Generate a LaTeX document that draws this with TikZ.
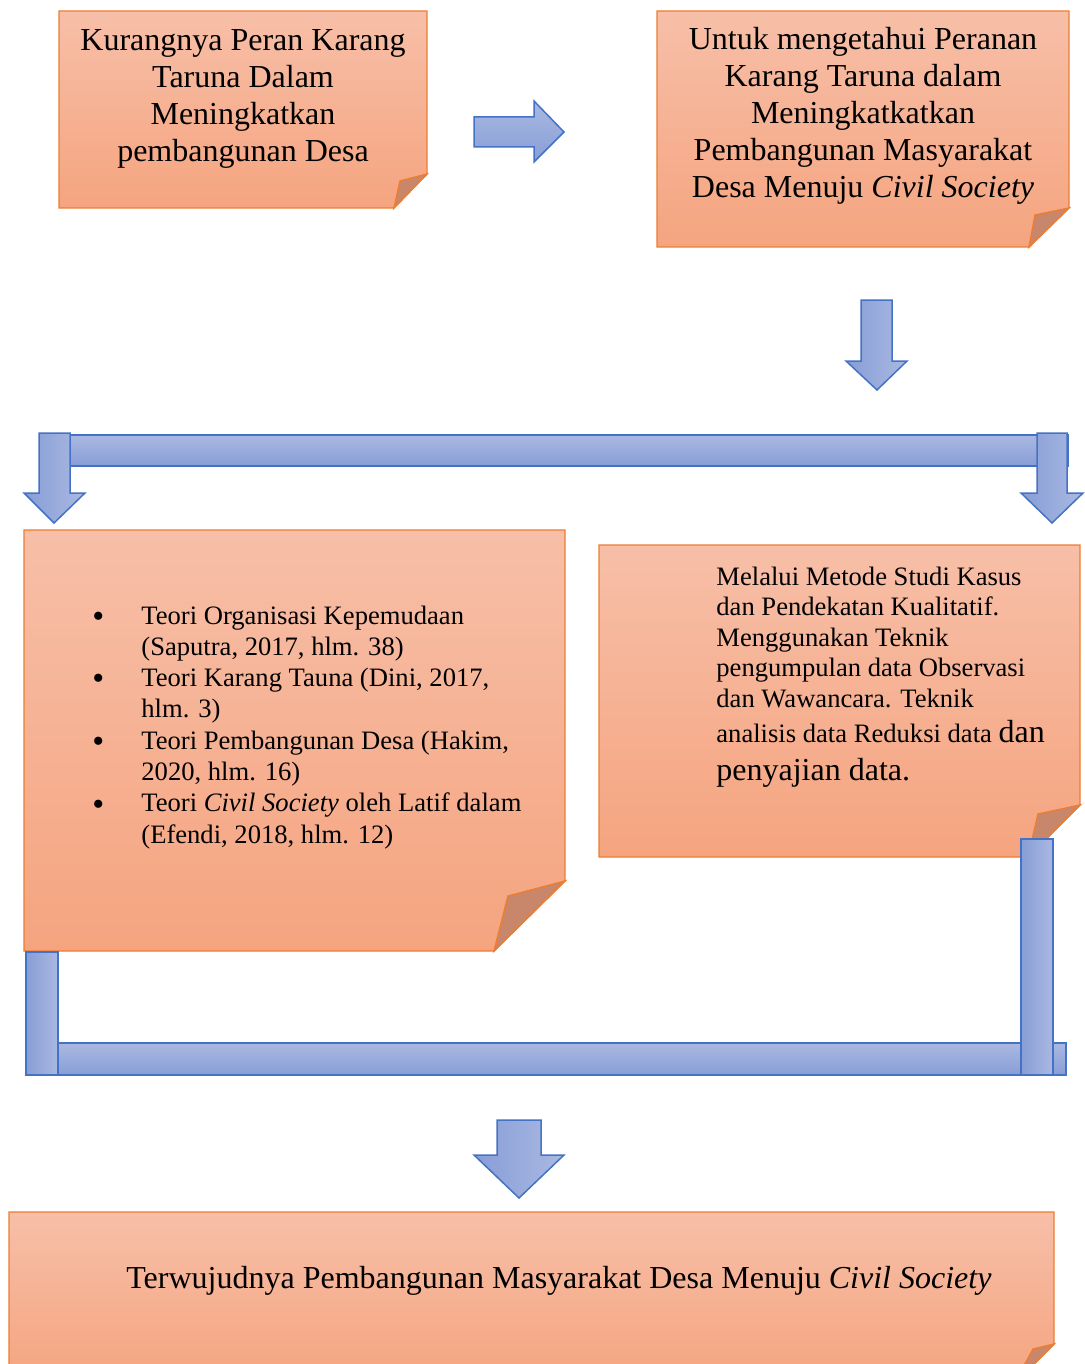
\documentclass[tikz,border=0pt]{standalone}
\usepackage{fontspec}
\setmainfont{Liberation Serif}
\definecolor{orTop}{HTML}{F7BFA8}
\definecolor{orBot}{HTML}{F5A47F}
\definecolor{orLine}{HTML}{ED7D31}
\definecolor{orFold}{HTML}{C8866A}
\definecolor{blTop}{HTML}{AAB9E2}
\definecolor{blBot}{HTML}{879DD6}
\definecolor{blLine}{HTML}{4472C4}
\newcommand{\bigbul}{\raisebox{-1.6pt}{\fontsize{17}{17}\selectfont\textbullet}}
\tikzset{
  note/.style={top color=orTop, bottom color=orBot, draw=orLine, line width=0.7pt, line join=miter},
  foldc/.style={fill=orFold, draw=orLine, line width=0.7pt, line join=miter},
  harrow/.style={top color=blTop, bottom color=blBot, draw=blLine, line width=0.75pt, line join=miter},
  varrow/.style={left color=blBot, right color=blTop, draw=blLine, line width=0.75pt, line join=miter},
  bigtext/.style={font=\fontsize{16}{18.4}\selectfont, inner sep=0pt},
  smalltext/.style={font=\fontsize{13.3}{15.65}\selectfont, inner sep=0pt},
  smalltextb/.style={font=\fontsize{13.3}{15.25}\selectfont, inner sep=0pt},
}
\begin{document}
\begin{tikzpicture}[x=0.5pt, y=-0.5pt]
\useasboundingbox (0,0) rectangle (1085,1364);
\begin{scope}
\clip (0,0) rectangle (1085,1364);
% box 1
\path[note] (59,11) -- (427,11) -- (427,174) -- (394,208) -- (59,208) -- cycle;
\path[foldc] (427,174) -- (400,181) -- (394,208) -- cycle;
% box 2
\path[note] (657,11) -- (1069,11) -- (1069,208) -- (1029,247) -- (657,247) -- cycle;
\path[foldc] (1069,208) -- (1035,215) -- (1029,247) -- cycle;
% right arrow
\path[harrow] (474,117) -- (534,117) -- (534,101) -- (564,132) -- (534,162) -- (534,147) -- (474,147) -- cycle;
% down arrow
\path[varrow] (861,300) -- (892,300) -- (892,361) -- (907,361) -- (877,390) -- (846,361) -- (861,361) -- cycle;
% top bar
\path[harrow] (70,435) rectangle (1068,466);
% split arrows
\path[varrow] (39,433) -- (70,433) -- (70,493) -- (85,493) -- (54,523) -- (24,493) -- (39,493) -- cycle;
\path[varrow] (1037,433) -- (1067,433) -- (1067,493) -- (1083,493) -- (1052,523) -- (1021,493) -- (1037,493) -- cycle;
% box 3
\path[note] (24,530) -- (565,530) -- (565,881) -- (494,951) -- (24,951) -- cycle;
\path[foldc] (565,881) -- (508,896) -- (494,951) -- cycle;
% box 4
\path[note] (599,545) -- (1080,545) -- (1080,805) -- (1028,857) -- (599,857) -- cycle;
\path[foldc] (1080,805) -- (1038,814) -- (1028,857) -- cycle;
% bottom bars
\path[harrow] (26,1043) rectangle (1066,1075);
\path[varrow] (26,952) rectangle (58,1075);
\path[varrow] (1021,839) rectangle (1053,1075);
% bottom arrow
\path[varrow] (497,1120) -- (541,1120) -- (541,1155) -- (564,1155) -- (519,1198) -- (474,1155) -- (497,1155) -- cycle;
% box 5
\path[note] (9,1212) -- (1054,1212) -- (1054,1344) -- (1014,1384) -- (9,1384) -- cycle;
\path[foldc] (1054,1344) -- (1033,1349) -- (1014,1384) -- cycle;
\end{scope}
% texts
\node[bigtext, anchor=base] (t1) at (243,51) {\begin{tabular}[t]{@{}c@{}}Kurangnya Peran Karang\\ Taruna Dalam\\ Meningkatkan\\ pembangunan Desa\end{tabular}};
\node[bigtext, anchor=base] (t2) at (863,50) {\begin{tabular}[t]{@{}c@{}}Untuk mengetahui Peranan\\ Karang Taruna dalam\\ Meningkatkatkan\\ Pembangunan Masyarakat\\ Desa Menuju \textit{Civil Society}\end{tabular}};
\node[smalltext, anchor=base west] (t3) at (92,624) {\begin{tabular}[t]{@{}l@{}l@{}}
\makebox[24.5pt][l]{\bigbul} & Teori Organisasi Kepemudaan\\
 & (Saputra, 2017, hlm. 38)\\
\bigbul & Teori Karang Tauna (Dini, 2017,\\
 & hlm. 3)\\
\bigbul & Teori Pembangunan Desa (Hakim,\\
 & 2020, hlm. 16)\\
\bigbul & Teori \textit{Civil Society} oleh Latif dalam\\
 & (Efendi, 2018, hlm. 12)
\end{tabular}};
\node[smalltextb, anchor=base west] (t4) at (716,585) {\begin{tabular}[t]{@{}l@{}}
Melalui Metode Studi Kasus\\
dan Pendekatan Kualitatif.\\
Menggunakan Teknik\\
pengumpulan data Observasi\\
dan Wawancara. Teknik\\[2.2pt]
analisis data Reduksi data {\fontsize{16}{18.4}\selectfont dan}\\[3.4pt]
{\fontsize{16}{18.4}\selectfont penyajian data.}
\end{tabular}};
\node[bigtext, anchor=base west] (t5) at (126,1288) {Terwujudnya Pembangunan Masyarakat Desa Menuju \textit{Civil Society}};
\end{tikzpicture}
\end{document}
